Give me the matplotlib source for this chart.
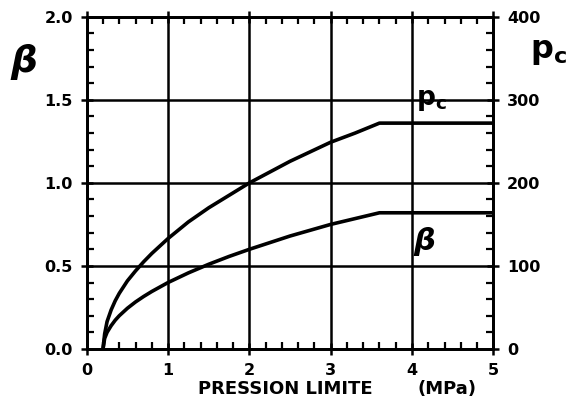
import numpy as np
import matplotlib.pyplot as plt
from matplotlib.ticker import MultipleLocator

# values
pression = [0.2, 0.22, 0.25, 0.3, 0.35, 0.4, 0.5, 0.6, 0.7, 0.8, 1.0, 1.25,
            1.5, 1.75, 2.0, 2.5, 3.0, 3.3, 3.6, 5.0]
pc = [0, 18, 33, 47, 58, 67, 82, 94, 105, 115, 133, 153,
      170, 185, 200, 226, 249, 260, 272, 272]
beta = [0, 0.063, 0.10, 0.14, 0.173, 0.20, 0.245, 0.283, 0.316, 0.346, 0.40, 0.458,
        0.51, 0.557, 0.60, 0.68, 0.75, 0.785, 0.82, 0.82]

xticks = [0, 1, 2, 3, 4, 5]
beta_ticks = [0.0, 0.5, 1.0, 1.5, 2.0]
pc_ticks = [0, 100, 200, 300, 400]

plt.rcParams['font.family'] = 'DejaVu Sans'
plt.rcParams['font.weight'] = 'bold'

fig = plt.figure(figsize=(5.67, 4.11), dpi=100)
ax = fig.add_axes([0.153, 0.151, 0.717, 0.808])
ax2 = ax.twinx()

ax2.plot(pression, pc, color='black', lw=2.6, solid_joinstyle='round')
ax.plot(pression, beta, color='black', lw=2.6, solid_joinstyle='round')

ax.set_xlim(0, 5)
ax.set_ylim(0, 2.0)
ax2.set_ylim(0, 400)

ax.set_xticks(xticks)
ax.set_xticklabels([str(t) for t in xticks])
ax.set_yticks(beta_ticks)
ax.set_yticklabels(['%.1f' % t for t in beta_ticks])
ax2.set_yticks(pc_ticks)
ax2.set_yticklabels([str(t) for t in pc_ticks])
ax.xaxis.set_minor_locator(MultipleLocator(0.2))
ax.yaxis.set_minor_locator(MultipleLocator(0.1))
ax2.yaxis.set_minor_locator(MultipleLocator(20))

ax.grid(True, which='major', color='black', lw=1.8)

for a in (ax, ax2):
    for s in a.spines.values():
        s.set_linewidth(2)
ax.tick_params(which='major', direction='inout', length=8, width=1.8,
               top=True, labelsize=11.5, pad=6)
ax.tick_params(which='minor', direction='in', length=5, width=1.6, top=True)
ax2.tick_params(which='major', direction='inout', length=8, width=1.8,
                labelsize=11.5, pad=6)
ax2.tick_params(which='minor', direction='in', length=5, width=1.6)

# axis title, placed like the original (not centred)
fig.text(0.349, 0.054, 'PRESSION LIMITE', fontsize=13, fontweight='bold',
         ha='left', va='center')
fig.text(0.737, 0.054, '(MPa)', fontsize=13, fontweight='bold',
         ha='left', va='center')

fig.text(0.041, 0.849, r'$\boldsymbol{\beta}$', fontsize=27, ha='center', va='center')
fig.text(0.968, 0.875, r'$\mathbf{p_c}$', fontsize=23, ha='center', va='center')
ax.text(4.24, 1.50, r'$\mathbf{p_c}$', fontsize=19, ha='center', va='center')
ax.text(4.15, 0.645, r'$\boldsymbol{\beta}$', fontsize=22, ha='center', va='center')

fig.savefig('out.png', dpi=100)
